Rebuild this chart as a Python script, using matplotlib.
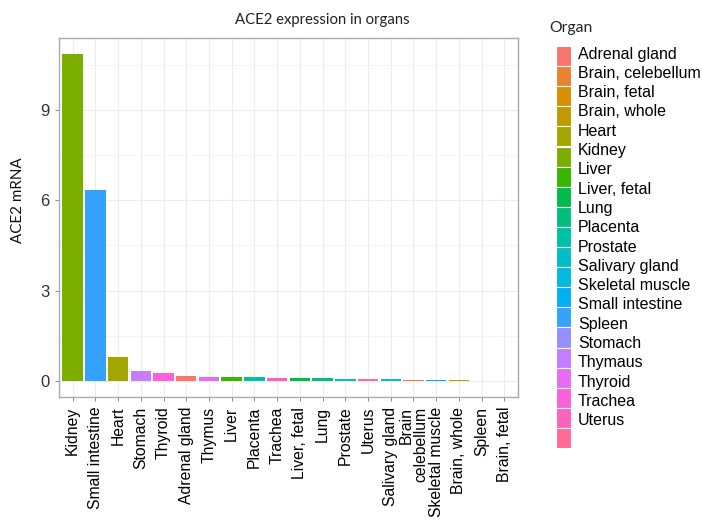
import numpy as np
import matplotlib
matplotlib.use("Agg")
import matplotlib.pyplot as plt
from matplotlib.patches import Rectangle

# ---------------- data ----------------
organs = ["Kidney", "Small intestine", "Heart", "Stomach", "Thyroid", "Adrenal gland",
          "Thymus", "Liver", "Placenta", "Trachea", "Liver, fetal", "Lung", "Prostate",
          "Uterus", "Salivary gland", "Brain\ncelebellum", "Skeletal muscle",
          "Brain, whole", "Spleen", "Brain, fetal"]
values = [10.86, 6.33, 0.78, 0.31, 0.26, 0.14, 0.12, 0.12, 0.11, 0.09, 0.09, 0.09,
          0.06, 0.06, 0.04, 0.02, 0.02, 0.02, 0.0, 0.0]
# factor level index of each bar (alphabetical levels, 20 levels)
level_index = [5, 13, 4, 15, 17, 0, 16, 6, 9, 18, 7, 8, 10, 19, 11, 1, 12, 3, 14, 2]
n_levels = 20
legend_labels = ["Adrenal gland", "Brain, celebellum", "Brain, fetal", "Brain, whole",
                 "Heart", "Kidney", "Liver", "Liver, fetal", "Lung", "Placenta",
                 "Prostate", "Salivary gland", "Skeletal muscle", "Small intestine",
                 "Spleen", "Stomach", "Thymaus", "Thyroid", "Trachea", "Uterus"]
yticks = [0, 3, 6, 9]


def hcl_to_rgb(h, c=100.0, l=65.0):
    Xn, Yn, Zn = 95.047, 100.0, 108.883
    hr = np.deg2rad(h)
    u = c * np.cos(hr)
    v = c * np.sin(hr)
    Y = Yn * ((l + 16) / 116) ** 3 if l > 8 else Yn * l / 903.3
    den = Xn + 15 * Yn + 3 * Zn
    un, vn = 4 * Xn / den, 9 * Yn / den
    up = u / (13 * l) + un
    vp = v / (13 * l) + vn
    X = 9.0 * Y * up / (4 * vp)
    Z = -X / 3 - 5 * Y + 3 * Y / vp
    X, Y, Z = X / 100, Y / 100, Z / 100
    r = 3.240479 * X - 1.537150 * Y - 0.498535 * Z
    g = -0.969256 * X + 1.875992 * Y + 0.041556 * Z
    b = 0.055648 * X - 0.204043 * Y + 1.057311 * Z

    def gam(t):
        t = 1.055 * t ** (1 / 2.4) - 0.055 if t > 0.0031308 else 12.92 * t
        return min(max(t, 0), 1)
    return (gam(r), gam(g), gam(b))


hues = np.linspace(15, 375, n_levels + 1)[:n_levels]
palette = [hcl_to_rgb(h) for h in hues]

# ---------------- figure ----------------
W, H = 702, 525
fig = plt.figure(figsize=(W / 100, H / 100), dpi=100)
fig.patch.set_facecolor("white")

tick_font = ["Liberation Sans", "DejaVu Sans"]
title_font = ["Lato", "DejaVu Sans"]

left, right, top, bottom = 59, 518, 38, 397
ax = fig.add_axes([left / W, 1 - bottom / H, (right - left) / W, (bottom - top) / H])
x = np.arange(1, len(organs) + 1)
ax.bar(x, values, width=0.9, color=[palette[i] for i in level_index], zorder=3)
ax.set_xlim(0.4, len(organs) + 0.6)
vmax = max(values)
ax.set_ylim(-0.05 * vmax, vmax * 1.05)

ax.set_xticks(x)
ax.set_xticklabels(organs, rotation=90, ha="center", va="top", multialignment="right",
                   family=tick_font, fontsize=11.3, color="black", linespacing=1.0)
ax.set_yticks(yticks)
ax.set_yticklabels([str(t) for t in yticks], family=tick_font, fontsize=12, color="#333333")
ax.set_yticks([1.5, 4.5, 7.5, 10.5], minor=True)
ax.set_xticks([], minor=True)
ax.tick_params(axis="both", which="major", length=3, width=0.7, color="#888888", pad=4)
ax.tick_params(axis="y", which="minor", length=0)
ax.grid(True, which="major", color="#ECECEC", lw=0.8, zorder=0)
ax.grid(True, which="minor", axis="y", color="#F3F3F3", lw=0.6, zorder=0)
for sp in ax.spines.values():
    sp.set_color("#AAAAAA")
    sp.set_linewidth(1.0)
ax.set_axisbelow(True)

fig.text(18 / W, 1 - 200 / H, "ACE2 mRNA", family=title_font, fontsize=10.9,
         rotation=90, ha="center", va="center", color="#111111")
fig.text(322 / W, 1 - 20 / H, "ACE2 expression in organs", family=title_font,
         fontsize=10.7, ha="center", va="center", color="#222222")

# ---------------- legend ----------------
lax = fig.add_axes([0, 0, 1, 1], zorder=5)
lax.set_xlim(0, W)
lax.set_ylim(H, 0)
lax.axis("off")
lax.patch.set_alpha(0)
lax.text(549, 28, "Organ", family=title_font, fontsize=11.3, ha="left", va="center",
         color="#222222")
key_x, key_w = 556, 15
key_top, key_h = 46, 20.1
for i, col in enumerate(palette):
    lax.add_patch(Rectangle((key_x, key_top + i * key_h), key_w, key_h,
                            facecolor=col, edgecolor="white", lw=0.8))
label_top, label_step = 54, 19.3
for i, lab in enumerate(legend_labels):
    lax.text(578, label_top + i * label_step, lab, family=tick_font,
             fontsize=11.5, ha="left", va="center")

fig.savefig("out.png", dpi=100)
